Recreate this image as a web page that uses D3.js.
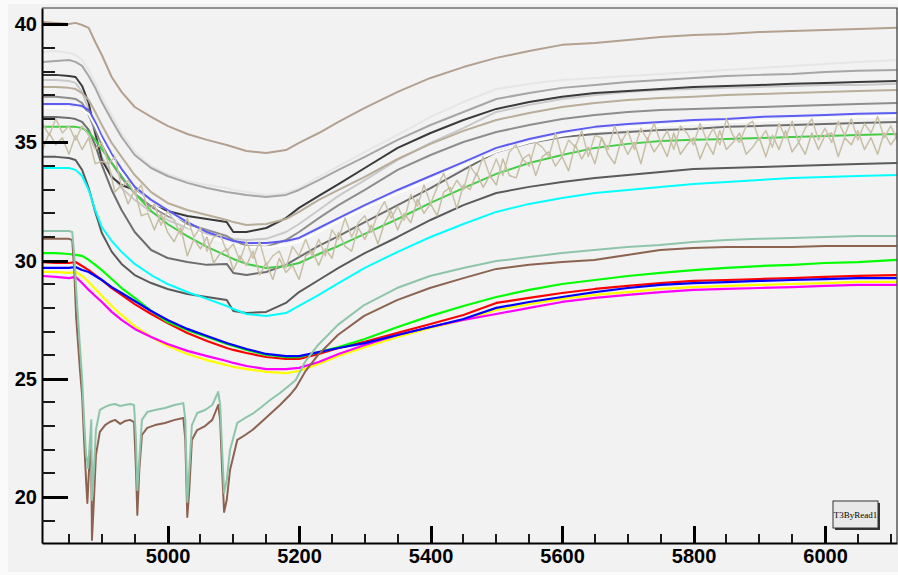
<!DOCTYPE html>
<html>
<head>
<meta charset="utf-8">
<script src="https://cdn.jsdelivr.net/npm/d3@7"></script>
<style>
body { margin: 0; background: #fafafa; }
svg { display: block; }
</style>
</head>
<body>
<svg></svg>
<script>
//x positions shared by most curves
var xGrid = [4810, 4830, 4850, 4860, 4870, 4880, 4890, 4900, 4915, 4930, 4950, 4975, 5000, 5030, 5060, 5090, 5100, 5120, 5150, 5180,
             5200, 5230, 5260, 5300, 5350, 5400, 5450, 5500, 5550, 5600, 5650, 5700, 5750, 5800, 5850, 5900, 5950, 6000, 6050, 6109];

var tanTop = [40.10, 40.06, 40.01, 40.06, 39.97, 39.85, 39.25, 38.70, 37.77, 37.14, 36.50, 36.08, 35.70, 35.36, 35.11, 34.89, 34.81, 34.64, 34.55, 34.68,
              34.98, 35.40, 35.87, 36.46, 37.14, 37.73, 38.19, 38.58, 38.87, 39.13, 39.21, 39.34, 39.46, 39.55, 39.59, 39.67, 39.72, 39.76, 39.80, 39.85];
var veryLight = [38.83, 38.87, 38.79, 38.70, 38.49, 38.07, 37.52, 36.93, 36.16, 35.40, 34.60, 34.00, 33.67, 33.37, 33.20, 33.07, 32.99, 32.90, 32.78, 32.86,
                 33.07, 33.54, 34.00, 34.60, 35.32, 36.08, 36.71, 37.26, 37.48, 37.64, 37.73, 37.81, 37.90, 37.98, 38.07, 38.15, 38.24, 38.32, 38.41, 38.49];
var grayA = [38.41, 38.45, 38.49, 38.41, 38.24, 37.81, 37.31, 36.71, 35.95, 35.23, 34.47, 33.92, 33.58, 33.29, 33.07, 32.90, 32.86, 32.78, 32.69, 32.78,
             32.99, 33.41, 33.84, 34.39, 35.11, 35.74, 36.29, 36.84, 37.09, 37.31, 37.43, 37.56, 37.64, 37.73, 37.81, 37.86, 37.90, 37.98, 38.03, 38.07];
var black = [37.86, 37.86, 37.81, 37.77, 37.39, 36.67, 35.40, 34.26, 33.54, 33.20, 32.99, 32.35, 32.10, 31.89, 31.76, 31.63, 31.21, 31.21, 31.38, 31.80,
             32.23, 32.74, 33.24, 33.92, 34.77, 35.40, 35.95, 36.42, 36.71, 36.93, 37.09, 37.18, 37.26, 37.35, 37.39, 37.43, 37.48, 37.52, 37.56, 37.60];
var lightGray = [37.64, 37.64, 37.60, 37.52, 37.14, 36.37, 35.32, 34.39, 33.62, 33.07, 32.57, 32.06, 31.72, 31.38, 31.13, 30.96, 30.92, 30.87, 30.92, 31.21,
                 31.55, 32.14, 32.74, 33.41, 34.26, 34.98, 35.61, 36.29, 36.59, 36.84, 37.01, 37.14, 37.22, 37.26, 37.31, 37.35, 37.39, 37.43, 37.43, 37.48];
var tanMid = [37.35, 37.35, 37.31, 37.26, 37.09, 36.80, 36.29, 35.74, 34.98, 34.39, 33.62, 32.90, 32.44, 32.14, 31.93, 31.72, 31.63, 31.51, 31.55, 31.76,
              32.06, 32.57, 32.99, 33.54, 34.30, 34.94, 35.49, 35.95, 36.25, 36.50, 36.67, 36.80, 36.88, 36.93, 37.01, 37.05, 37.09, 37.14, 37.18, 37.22];
var gray9 = [36.93, 36.93, 36.88, 36.84, 36.67, 36.16, 35.53, 34.89, 34.13, 33.50, 32.86, 32.27, 31.89, 31.55, 31.30, 31.04, 30.87, 30.62, 30.58, 30.87,
             31.21, 31.80, 32.35, 32.99, 33.84, 34.47, 35.02, 35.44, 35.74, 35.99, 36.16, 36.29, 36.37, 36.42, 36.46, 36.50, 36.54, 36.59, 36.63, 36.67];
var paleBlue = [36.63, 36.63, 36.63, 36.59, 36.54, 36.37, 35.87, 35.27, 34.51, 33.88, 33.12, 32.57, 32.14, 31.63, 31.21, 30.92, 30.83, 30.75, 30.75, 30.83,
                30.96, 31.38, 31.80, 32.35, 32.99, 33.58, 34.17, 34.77, 35.15, 35.44, 35.66, 35.78, 35.87, 35.95, 35.99, 36.08, 36.12, 36.16, 36.21, 36.25];
var white = [36.48, 36.48, 36.47, 36.44, 36.39, 36.20, 35.70, 35.10, 34.35, 33.72, 32.95, 32.40, 31.98, 31.45, 31.03, 30.75, 30.65, 30.58, 30.57, 30.66,
             30.80, 31.22, 31.65, 32.20, 32.84, 33.42, 34.00, 34.60, 35.00, 35.28, 35.50, 35.63, 35.72, 35.80, 35.85, 35.92, 35.97, 36.02, 36.07, 36.12];
var darkGray = [36.08, 36.08, 36.04, 35.99, 35.87, 35.53, 34.89, 34.05, 32.99, 32.14, 31.21, 30.45, 30.11, 29.94, 29.82, 29.86, 29.48, 29.39, 29.52, 29.82,
                30.15, 30.62, 31.04, 31.63, 32.35, 33.07, 33.84, 34.60, 34.98, 35.23, 35.36, 35.44, 35.53, 35.57, 35.66, 35.70, 35.74, 35.78, 35.82, 35.87];
var midGreen = [35.66, 35.66, 35.66, 35.66, 35.61, 35.44, 35.11, 34.72, 34.13, 33.62, 32.86, 32.10, 31.55, 31.04, 30.58, 30.20, 30.07, 29.86, 29.69, 29.77,
                29.90, 30.28, 30.62, 31.13, 31.76, 32.44, 33.07, 33.67, 34.13, 34.47, 34.77, 34.94, 35.06, 35.11, 35.15, 35.19, 35.23, 35.27, 35.32, 35.36];
var slate = [34.39, 34.39, 34.34, 34.26, 33.84, 33.07, 32.06, 31.17, 30.38, 29.86, 29.39, 29.05, 28.80, 28.59, 28.46, 28.33, 27.87, 27.78, 27.83, 28.21,
             28.67, 29.18, 29.69, 30.32, 31.00, 31.72, 32.35, 32.86, 33.12, 33.33, 33.50, 33.62, 33.75, 33.88, 33.92, 33.96, 34.00, 34.05, 34.09, 34.13];
var cyan = [33.92, 33.92, 33.92, 33.84, 33.58, 32.99, 32.14, 31.42, 30.83, 30.37, 29.86, 29.39, 29.01, 28.67, 28.38, 28.08, 27.95, 27.74, 27.66, 27.78,
            28.08, 28.55, 29.05, 29.69, 30.37, 31.00, 31.55, 32.06, 32.40, 32.65, 32.86, 32.99, 33.12, 33.24, 33.33, 33.41, 33.50, 33.54, 33.58, 33.62];
var green = [30.32, 30.32, 30.28, 30.24, 30.20, 30.03, 29.82, 29.60, 29.22, 28.84, 28.42, 27.87, 27.40, 27.06, 26.77, 26.47, 26.39, 26.22, 26.01, 25.92,
             25.92, 26.13, 26.34, 26.68, 27.19, 27.66, 28.08, 28.46, 28.76, 29.01, 29.18, 29.35, 29.48, 29.60, 29.69, 29.77, 29.82, 29.90, 29.94, 30.03];
var red = [29.94, 29.90, 29.90, 29.94, 29.77, 29.60, 29.39, 29.18, 28.84, 28.55, 28.16, 27.74, 27.36, 26.94, 26.60, 26.30, 26.22, 26.09, 25.92, 25.84,
           25.84, 26.05, 26.30, 26.56, 26.94, 27.32, 27.70, 28.21, 28.42, 28.63, 28.80, 28.93, 29.05, 29.14, 29.18, 29.22, 29.26, 29.31, 29.35, 29.39];
var blue = [29.69, 29.69, 29.69, 29.73, 29.60, 29.52, 29.35, 29.18, 28.88, 28.63, 28.29, 27.87, 27.49, 27.11, 26.81, 26.51, 26.43, 26.26, 26.05, 25.96,
            25.96, 26.13, 26.30, 26.51, 26.85, 27.19, 27.53, 28.00, 28.25, 28.46, 28.67, 28.84, 28.97, 29.05, 29.09, 29.14, 29.18, 29.22, 29.26, 29.26];
var yellow = [29.52, 29.52, 29.48, 29.52, 29.35, 29.10, 28.80, 28.50, 28.08, 27.70, 27.23, 26.77, 26.39, 26.05, 25.79, 25.58, 25.50, 25.41, 25.29, 25.24,
              25.33, 25.63, 25.96, 26.34, 26.77, 27.15, 27.49, 27.91, 28.16, 28.38, 28.55, 28.67, 28.80, 28.88, 28.93, 28.97, 29.01, 29.05, 29.10, 29.10];
var magenta = [29.35, 29.31, 29.26, 29.31, 29.05, 28.76, 28.50, 28.25, 27.83, 27.49, 27.11, 26.77, 26.47, 26.18, 25.96, 25.75, 25.67, 25.54, 25.41, 25.41,
               25.46, 25.71, 26.05, 26.43, 26.85, 27.19, 27.49, 27.74, 28.00, 28.25, 28.42, 28.55, 28.67, 28.76, 28.80, 28.84, 28.88, 28.93, 28.97, 28.97];

//the two noisy beige curves, read every 10 units
var noisyX = [4810, 4820, 4830, 4840, 4850, 4860, 4870, 4880, 4890, 4900, 4910, 4920, 4930, 4940, 4950, 4960, 4970, 4980, 4990, 5000,
              5010, 5020, 5030, 5040, 5050, 5060, 5070, 5080, 5090, 5100, 5110, 5120, 5130, 5140, 5150, 5160, 5170, 5180, 5190, 5200,
              5210, 5220, 5230, 5240, 5250, 5260, 5270, 5280, 5290, 5300, 5310, 5320, 5330, 5340, 5350, 5360, 5370, 5380, 5390, 5400,
              5410, 5420, 5430, 5440, 5450, 5460, 5470, 5480, 5490, 5500, 5510, 5520, 5530, 5540, 5550, 5560, 5570, 5580, 5590, 5600,
              5610, 5620, 5630, 5640, 5650, 5660, 5670, 5680, 5690, 5700, 5710, 5720, 5730, 5740, 5750, 5760, 5770, 5780, 5790, 5800,
              5810, 5820, 5830, 5840, 5850, 5860, 5870, 5880, 5890, 5900, 5910, 5920, 5930, 5940, 5950, 5960, 5970, 5980, 5990, 6000,
              6010, 6020, 6030, 6040, 6050, 6060, 6070, 6080, 6090, 6100, 6110];
var beigeA = [35.8, 35.3, 36.0, 35.4, 35.7, 35.1, 35.7, 35.3, 34.7, 35.0, 34.1, 34.4, 33.1, 33.4, 32.8, 33.2, 32.1, 32.4, 31.5, 32.1,
              31.7, 31.1, 31.8, 31.0, 31.4, 30.4, 31.0, 31.1, 30.4, 30.7, 30.0, 30.8, 30.1, 30.8, 29.8, 30.2, 30.4, 29.7, 30.6, 30.2,
              30.9, 30.2, 30.9, 30.2, 31.3, 30.9, 31.8, 31.0, 31.6, 31.9, 31.2, 32.0, 32.5, 31.8, 32.3, 31.7, 32.8, 32.3, 33.2, 32.4,
              33.1, 33.7, 32.9, 33.4, 33.0, 34.0, 33.6, 34.4, 33.6, 34.3, 33.6, 34.6, 34.9, 34.3, 34.0, 35.0, 34.8, 34.4, 35.4, 34.4,
              35.1, 34.8, 35.5, 34.4, 35.3, 35.2, 34.7, 35.7, 35.0, 35.5, 34.7, 35.6, 35.1, 35.8, 35.0, 35.5, 34.7, 35.7, 35.4, 34.9,
              35.8, 35.1, 35.6, 34.9, 36.0, 35.3, 35.0, 35.7, 35.9, 35.1, 35.5, 34.8, 35.8, 35.2, 35.9, 35.0, 35.6, 36.0, 35.1, 35.6,
              35.0, 35.9, 35.3, 36.0, 35.1, 35.8, 35.4, 36.1, 35.2, 35.7, 35.1];
var beigeB = [34.7, 35.4, 34.9, 35.2, 34.5, 35.3, 34.7, 35.2, 34.1, 34.2, 34.1, 32.9, 33.2, 32.4, 33.0, 31.9, 32.0, 31.3, 32.0, 31.2,
              30.8, 31.4, 30.2, 30.9, 30.5, 31.0, 29.9, 30.3, 30.5, 29.6, 30.2, 29.8, 30.4, 29.4, 29.9, 29.2, 30.1, 29.5, 29.8, 29.2,
              30.2, 30.4, 29.8, 30.5, 30.1, 31.2, 30.6, 30.4, 31.4, 30.9, 31.5, 30.7, 31.6, 32.1, 31.3, 32.0, 31.6, 32.6, 32.0, 32.4,
              31.9, 32.9, 33.1, 32.2, 33.2, 33.0, 33.7, 33.1, 33.6, 33.2, 34.3, 33.6, 33.5, 34.3, 34.5, 33.6, 34.4, 34.6, 34.0, 34.4,
              33.8, 34.9, 34.3, 34.8, 34.1, 35.2, 34.5, 34.1, 35.1, 34.5, 35.0, 34.1, 35.2, 34.6, 35.0, 34.4, 35.4, 34.5, 34.9, 35.2,
              34.3, 35.0, 34.5, 35.5, 34.7, 35.0, 35.4, 34.5, 34.8, 35.2, 34.4, 35.3, 34.7, 35.5, 34.6, 35.0, 34.5, 35.4, 34.7, 35.3,
              35.4, 34.4, 35.2, 34.9, 35.5, 34.7, 35.2, 34.5, 35.4, 34.9, 35.3];

//the two curves with the deep dips
var dipX = [4810, 4830, 4850, 4855, 4858, 4861, 4864, 4867, 4870, 4873, 4876, 4878, 4879, 4882, 4884, 4885, 4888, 4891, 4897, 4905,
            4912, 4920, 4928, 4935, 4943, 4949, 4952, 4954, 4957, 4961, 4969, 4981, 4996, 5011, 5024, 5027, 5030, 5033, 5037, 5045,
            5057, 5068, 5077, 5080, 5083, 5086, 5090, 5095, 5106, 5118, 5129, 5141, 5156, 5171, 5186, 5195, 5209, 5229, 5259, 5299,
            5349, 5399, 5450, 5500, 5550, 5600, 5649, 5699, 5749, 5799, 5850, 5900, 5950, 6000, 6050, 6109];
var seaGreen = [31.25, 31.25, 31.25, 31.21, 30.24, 28.76, 27.49, 26.22, 25.03, 23.26, 21.77, 21.48, 21.22, 22.41, 23.26, 19.87, 21.14, 22.83, 23.68, 23.81,
                23.89, 23.93, 23.85, 23.89, 23.93, 23.89, 22.41, 20.29, 21.56, 23.26, 23.59, 23.68, 23.76, 23.89, 23.97, 23.26, 19.79, 21.14, 23.04, 23.55,
                23.68, 23.89, 24.44, 23.89, 21.99, 20.17, 20.72, 21.99, 23.13, 23.34, 23.51, 23.76, 24.10, 24.40, 24.74, 24.95, 25.71, 26.43, 27.28, 28.12,
                28.84, 29.35, 29.69, 29.98, 30.15, 30.32, 30.45, 30.58, 30.66, 30.79, 30.87, 30.92, 30.96, 31.00, 31.04, 31.04];
var brown = [30.92, 30.92, 30.92, 30.87, 29.60, 27.57, 26.43, 25.29, 24.31, 22.41, 20.72, 19.74, 20.29, 21.99, 21.56, 18.18, 19.87, 21.77, 22.75, 23.04,
             23.17, 23.26, 23.09, 23.21, 23.26, 23.17, 21.14, 19.24, 21.14, 22.62, 22.92, 23.04, 23.13, 23.26, 23.34, 22.41, 19.15, 20.29, 22.41, 22.83,
             23.00, 23.26, 23.89, 23.26, 21.14, 19.36, 19.87, 21.14, 22.41, 22.62, 22.83, 23.13, 23.51, 23.89, 24.31, 24.61, 25.29, 26.01, 26.85, 27.66,
             28.33, 28.84, 29.26, 29.65, 29.82, 29.94, 30.03, 30.24, 30.45, 30.53, 30.58, 30.58, 30.58, 30.62, 30.62, 30.62];

//ticks
var xMajor = [5000, 5200, 5400, 5600, 5800, 6000];
var xMinor = [4850, 4900, 4950, 5050, 5100, 5150, 5250, 5300, 5350, 5450, 5500, 5550, 5650, 5700, 5750, 5850, 5900, 5950, 6050, 6100];
var yMajor = [20, 25, 30, 35, 40];
var yMinor = [19, 21, 22, 23, 24, 26, 27, 28, 29, 31, 32, 33, 34, 36, 37, 38, 39];
var legendLabel = "T3ByRead1";

var width = 898;
var height = 575;
var frame = {left: 42, right: 897, top: 8, bottom: 543};

var svg = d3.select("svg")
    .attr("width", width)
    .attr("height", height);

//pad background
svg.append("rect")
    .attr("x", 8)
    .attr("y", 4)
    .attr("width", width - 8)
    .attr("height", 568)
    .attr("fill", "#f2f2f2");

var xScale = d3.scaleLinear()
    .domain([4809, 6109.5])
    .range([frame.left, frame.right]);
var yScale = d3.scaleLinear()
    .domain([18.05, 40.69])
    .range([frame.bottom, frame.top]);

svg.append("clipPath")
    .attr("id", "plotclip")
    .append("rect")
    .attr("x", frame.left)
    .attr("y", frame.top)
    .attr("width", frame.right - frame.left)
    .attr("height", frame.bottom - frame.top);

var makePoints = function(xs, ys)
{
    return xs.map(function(x, i)
    {
        return [x, ys[i]];
    });
};

//draw order: back to front
var curves = [
    {x: xGrid, y: tanTop, color: "#b3a08f", w: 2},
    {x: xGrid, y: veryLight, color: "#e6e6e6", w: 2},
    {x: xGrid, y: grayA, color: "#a6a6a6", w: 2},
    {x: xGrid, y: lightGray, color: "#c9c9c9", w: 2},
    {x: xGrid, y: black, color: "#3a3a3a", w: 2},
    {x: xGrid, y: tanMid, color: "#b9ac99", w: 2},
    {x: xGrid, y: gray9, color: "#8e8e8e", w: 2},
    {x: xGrid, y: darkGray, color: "#6e6e6e", w: 2},
    {x: xGrid, y: slate, color: "#5a5a5a", w: 2},
    {x: xGrid, y: cyan, color: "#00ffff", w: 2},
    {x: xGrid, y: midGreen, color: "#44cc44", w: 2},
    {x: xGrid, y: paleBlue, color: "#5c5cf2", w: 2},
    {x: xGrid, y: white, color: "#ffffff", w: 2},
    {x: noisyX, y: beigeA, color: "#cac2a9", w: 1.5},
    {x: noisyX, y: beigeB, color: "#c6bea4", w: 1.5},
    {x: xGrid, y: red, color: "#ff0000", w: 2.2},
    {x: xGrid, y: green, color: "#00ff00", w: 2.2},
    {x: xGrid, y: yellow, color: "#ffff00", w: 2.2},
    {x: xGrid, y: magenta, color: "#ff00ff", w: 2.2},
    {x: xGrid, y: blue, color: "#0000ff", w: 2.2},
    {x: dipX, y: brown, color: "#8b6350", w: 2},
    {x: dipX, y: seaGreen, color: "#8ec5aa", w: 2}
];

var line = d3.line()
    .x(function(d) { return xScale(d[0]); })
    .y(function(d) { return yScale(d[1]); });

svg.append("g")
    .attr("clip-path", "url(#plotclip)")
    .selectAll("path")
    .data(curves)
    .enter()
    .append("path")
    .attr("d", function(c) { return line(makePoints(c.x, c.y)); })
    .attr("fill", "none")
    .attr("stroke", function(c) { return c.color; })
    .attr("stroke-width", function(c) { return c.w; })
    .attr("stroke-linejoin", "round");

var font = "'Liberation Sans', Arial, sans-serif";

//axes give the labels and the axis lines
var yAxis = svg.append("g")
    .attr("transform", "translate(" + frame.left + ",0)")
    .call(d3.axisLeft(yScale).tickValues(yMajor).tickSize(0).tickPadding(5).tickFormat(d3.format("d")));
var xAxis = svg.append("g")
    .attr("transform", "translate(0," + frame.bottom + ")")
    .call(d3.axisBottom(xScale).tickValues(xMajor).tickSize(0).tickPadding(6).tickFormat(d3.format("d")));

[yAxis, xAxis].forEach(function(ax)
{
    ax.selectAll("text")
        .attr("font-family", font)
        .attr("font-weight", "bold")
        .attr("font-size", 20)
        .attr("fill", "#000");
    ax.select(".domain")
        .attr("stroke", "#000")
        .attr("stroke-width", 2);
});

//tick marks point into the frame: one absolute path per set, on top of everything
var tickPath = function(values, horizontal, len)
{
    return values.map(function(v)
    {
        if (horizontal)
        {
            var y = Math.round(yScale(v));
            return "M" + frame.left + "," + y + "L" + (frame.left + len) + "," + y;
        }
        var x = Math.round(xScale(v));
        return "M" + x + "," + frame.bottom + "L" + x + "," + (frame.bottom - len);
    }).join("");
};

svg.append("path")
    .attr("d", tickPath(yMinor, true, 13) + tickPath(xMinor, false, 9))
    .attr("fill", "none")
    .attr("stroke", "#1a1a1a")
    .attr("stroke-width", 2)
    .attr("shape-rendering", "crispEdges");
svg.append("path")
    .attr("d", tickPath(yMajor, true, 26) + tickPath(xMajor, false, 17))
    .attr("fill", "none")
    .attr("stroke", "#000")
    .attr("stroke-width", 3)
    .attr("shape-rendering", "crispEdges");

//frame top and right
svg.append("path")
    .attr("d", "M" + frame.left + "," + frame.top + "H" + frame.right + "V" + frame.bottom)
    .attr("fill", "none")
    .attr("stroke", "#333")
    .attr("stroke-width", 1.2);

//title box
svg.append("rect")
    .attr("x", 835)
    .attr("y", 503)
    .attr("width", 45)
    .attr("height", 27)
    .attr("fill", "#333");
svg.append("rect")
    .attr("x", 833)
    .attr("y", 501)
    .attr("width", 45)
    .attr("height", 27)
    .attr("fill", "#e8e8e8")
    .attr("stroke", "#333")
    .attr("stroke-width", 1);
svg.append("text")
    .attr("x", 855.5)
    .attr("y", 517.5)
    .attr("text-anchor", "middle")
    .attr("font-family", "'Liberation Serif', 'DejaVu Serif', serif")
    .attr("font-size", 9)
    .attr("fill", "#000")
    .text(legendLabel);
</script>
</body>
</html>
